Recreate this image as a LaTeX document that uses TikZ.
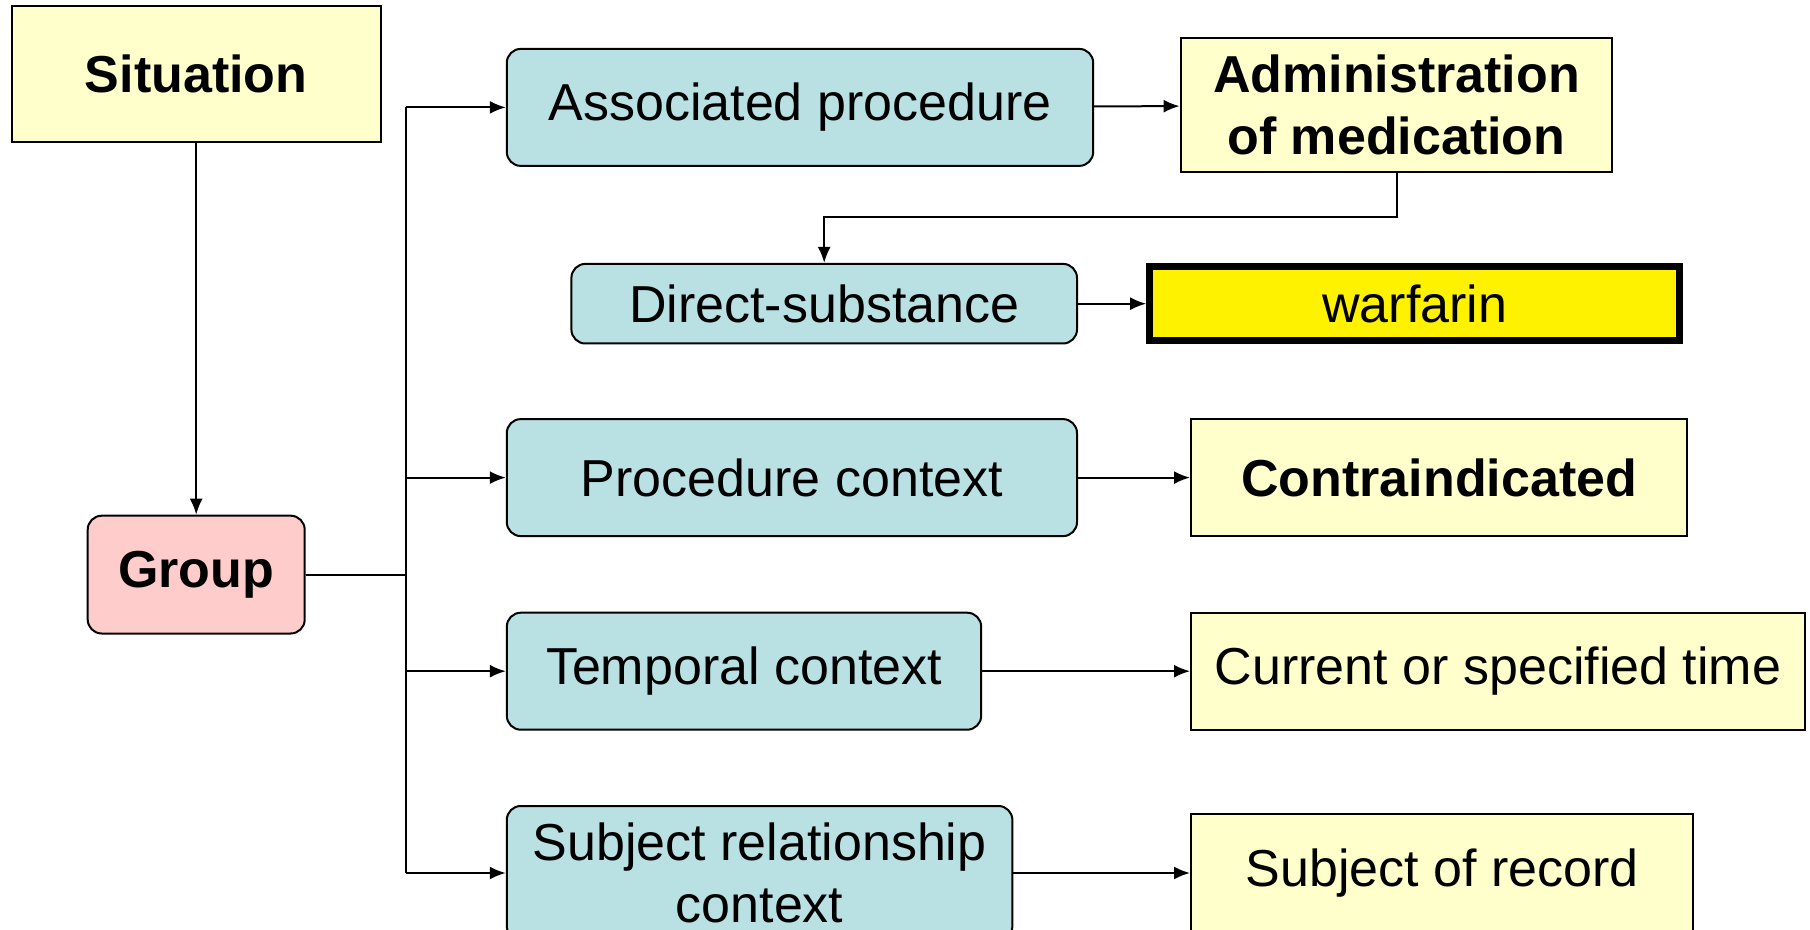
\documentclass[tikz,border=0pt]{standalone}
\usepackage{fontspec}
\setmainfont{Liberation Sans}
\usetikzlibrary{arrows.meta,positioning}
\definecolor{lightyellow}{HTML}{FFFFCC}
\definecolor{lightpink}{HTML}{FFCCCC}
\definecolor{lightteal}{HTML}{B9E0E3}
\begin{document}
\begin{tikzpicture}[x=1pt,y=-1pt,>={Latex[length=8pt,width=6.5pt]},line width=1pt,
	every node/.style={font=\fontsize{26}{31}\selectfont,inner sep=0pt,align=center},
	strong/.style={font=\fontsize{26}{31}\selectfont\bfseries},
	concept/.style={draw,line width=1pt,fill=lightyellow},
	groupbox/.style={draw,line width=1pt,rounded corners=7pt,fill=lightpink},
	attr/.style={draw,line width=1pt,rounded corners=7pt,fill=lightteal,minimum height=58.5pt},
	target/.style={draw,line width=3.5pt,fill=yellow}]
\useasboundingbox (0,0) rectangle (905,465);
\node[concept,strong,minimum width=184.7pt,minimum height=68.1pt]   (sit) at (98.1,36.9)      {Situation};
\node[groupbox,strong,minimum width=108.5pt,minimum height=58.9pt]   (grp) [below=185.9pt of sit]      {Group};
	\node[attr,minimum width=293.2pt]   (assoc) at (400,53.7)      {Associated procedure};
	\node[concept,strong,minimum width=215.9pt,minimum height=67pt]   (admin) [right=42.7pt of assoc,yshift=1pt]      {Administration\\of medication};
	\node[attr,minimum width=252.8pt,minimum height=39.8pt]   (direct) [below=48pt of assoc.south west,anchor=north west,xshift=32.3pt]      {Direct-substance};
	\node[target,minimum width=265pt,minimum height=37pt]   (warf) [right=34.1pt of direct]      {warfarin};
	\node[attr,minimum width=285.1pt]   (proc) [below=125.6pt of assoc.south west,anchor=north west]      {Procedure context};
	\node[concept,strong,minimum width=248.2pt,minimum height=58.3pt]   (contra) [right=56pt of proc]      {Contraindicated};
	\node[attr,minimum width=237.2pt]   (temp) [below=37.3pt of proc.south west,anchor=north west]      {Temporal context};
	\node[concept,minimum width=307.1pt,minimum height=58.3pt]   (curr) [right=103.9pt of temp]      {Current or specified time};
	\node[attr,minimum width=252.8pt,minimum height=67pt]   (subj) [below=37.15pt of temp.south west,anchor=north west]      {Subject relationship\\context};
	\node[concept,minimum width=251.1pt,minimum height=58.9pt]   (rec) [right=88.3pt of subj]      {Subject of record};
\coordinate[right=50.2pt of grp] (jn);

	\draw (grp) -- (jn);
	\draw (jn |- assoc) -- (jn |- subj);
	\path[->] (sit)  edge  (grp)
			(jn |- assoc)  edge  (assoc)
			(jn |- proc)  edge  (proc)
			(jn |- temp)  edge  (temp)
			(jn |- subj)  edge  (subj)
			(assoc)  edge  (admin)
			(direct)  edge  (warf)
			(proc)  edge  (contra)
			(temp)  edge  (curr)
			(subj)  edge  (rec);
	\draw[->] (admin.south) -- ++(0,21.9) -| (direct.north);
\end{tikzpicture}
\end{document}
